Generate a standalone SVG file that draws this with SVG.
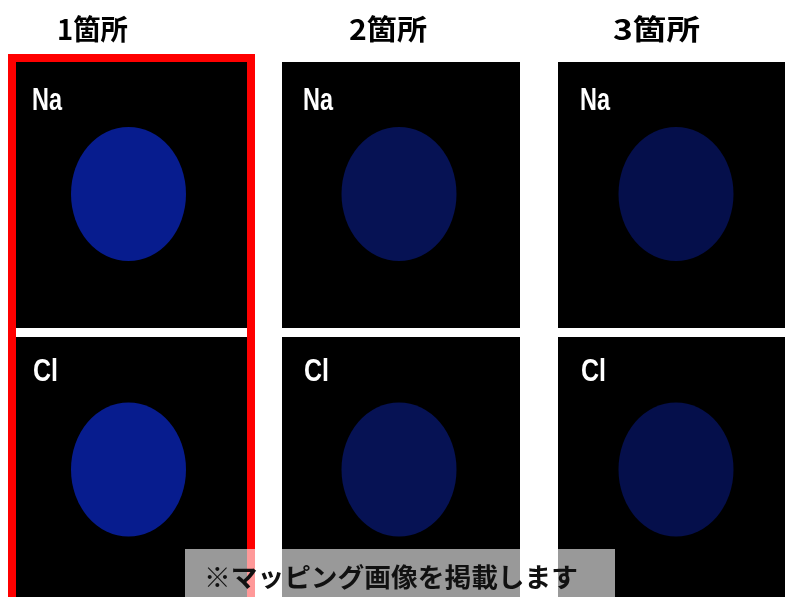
<svg xmlns="http://www.w3.org/2000/svg" width="785" height="597" viewBox="0 0 785 597">
<style>
.title{font-family:"Noto Sans CJK JP","Liberation Sans",sans-serif;font-weight:bold;font-size:28px;fill:#000}
.el{font-family:"Liberation Sans","DejaVu Sans",sans-serif;font-weight:bold;font-size:31px;fill:#fff}
.panel{fill:#000}
.e1{fill:#071c8e}
.e2{fill:#061254}
.e3{fill:#050f4b}
.note{font-family:"Noto Sans CJK JP",sans-serif;font-weight:bold;font-size:26px;fill:#111}
</style>
<rect width="785" height="597" fill="#fff"/>
<g id="titles">
<text class="title" x="57" y="40" textLength="71" lengthAdjust="spacingAndGlyphs">1箇所</text>
<text class="title" x="349" y="40" textLength="78" lengthAdjust="spacingAndGlyphs">2箇所</text>
<text class="title" x="613" y="40" textLength="87" lengthAdjust="spacingAndGlyphs">3箇所</text>
</g>
<g id="col1-na">
<rect class="panel" x="16" y="62" width="231" height="266"/>
<ellipse class="e1" cx="128.5" cy="194" rx="57.5" ry="67"/>
<text class="el" x="32" y="110" textLength="30" lengthAdjust="spacingAndGlyphs">Na</text>
</g>
<g id="col1-cl">
<rect class="panel" x="16" y="337" width="231" height="260"/>
<ellipse class="e1" cx="128.5" cy="469.5" rx="57.5" ry="67"/>
<text class="el" x="33" y="381" textLength="25" lengthAdjust="spacingAndGlyphs">Cl</text>
</g>
<g id="col2-na">
<rect class="panel" x="282" y="62" width="238" height="266"/>
<ellipse class="e2" cx="399" cy="194" rx="57.5" ry="67"/>
<text class="el" x="303" y="110" textLength="30" lengthAdjust="spacingAndGlyphs">Na</text>
</g>
<g id="col2-cl">
<rect class="panel" x="282" y="337" width="238" height="260"/>
<ellipse class="e2" cx="399" cy="469.5" rx="57.5" ry="67"/>
<text class="el" x="304" y="381" textLength="25" lengthAdjust="spacingAndGlyphs">Cl</text>
</g>
<g id="col3-na">
<rect class="panel" x="558" y="62" width="227" height="266"/>
<ellipse class="e3" cx="676" cy="194" rx="57.5" ry="67"/>
<text class="el" x="580" y="110" textLength="30" lengthAdjust="spacingAndGlyphs">Na</text>
</g>
<g id="col3-cl">
<rect class="panel" x="558" y="337" width="227" height="260"/>
<ellipse class="e3" cx="676" cy="469.5" rx="57.5" ry="67"/>
<text class="el" x="581" y="381" textLength="25" lengthAdjust="spacingAndGlyphs">Cl</text>
</g>
<g id="highlight">
<rect x="12" y="58" width="239" height="560" fill="none" stroke="#ff0000" stroke-width="8"/>
</g>
<g id="note">
<rect x="185" y="549" width="430" height="48" fill="#999" style="mix-blend-mode:screen"/>
<text class="note" x="204" y="587" textLength="374" lengthAdjust="spacingAndGlyphs">※マッピング画像を掲載します</text>
</g>
</svg>
